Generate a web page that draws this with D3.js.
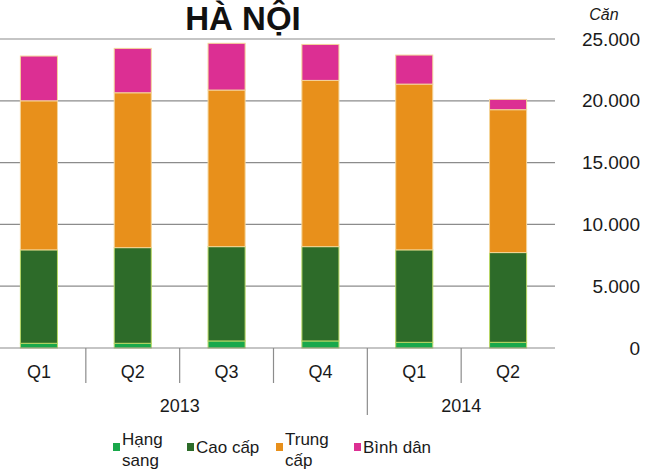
<!DOCTYPE html>
<html>
<head>
<meta charset="utf-8">
<script src="https://cdn.jsdelivr.net/npm/d3@7"></script>
<style>
  body { margin: 0; background: #fff; }
  svg { display: block; font-family: "Liberation Sans", Arial, sans-serif; }
</style>
</head>
<body>
<div id="chart"></div>
<script>
// Data
const quarters = ['Q1', 'Q2', 'Q3', 'Q4', 'Q1', 'Q2']
const years = ['2013', '2013', '2013', '2013', '2014', '2014']
const hangSang = [380, 380, 570, 570, 460, 460]
const caoCap = [7560, 7740, 7630, 7630, 7480, 7260]
const trungCap = [12060, 12530, 12670, 13450, 13410, 11560]
const binhDan = [3620, 3590, 3780, 2910, 2350, 830]
const seriesNames = ['Hạng sang', 'Cao cấp', 'Trung cấp', 'Bình dân']
const seriesColors = ['#19a84b', '#2d6b29', '#e8901b', '#dc2f93']
const yTicks = [0, 5000, 10000, 15000, 20000, 25000]

// Canvas
const width = 655,
      height = 473,
      plotLeft = -8,
      plotRight = 555,
      plotTop = 39,
      plotBottom = 348

const svg = d3.select('#chart')
  .append('svg')
  .attr('width', width)
  .attr('height', height)

const rows = quarters.map((q, i) => ({
  key: i,
  'Hạng sang': hangSang[i],
  'Cao cấp': caoCap[i],
  'Trung cấp': trungCap[i],
  'Bình dân': binhDan[i]
}))

const stack = d3.stack().keys(seriesNames)(rows)

const xScale = d3.scaleBand()
  .domain(d3.range(quarters.length))
  .range([plotLeft, plotRight])
  .paddingInner(0.605)
  .paddingOuter(0.3025)

const yScale = d3.scaleLinear()
  .domain([0, 25000])
  .range([plotBottom, plotTop])

const colorScale = d3.scaleOrdinal()
  .domain(seriesNames)
  .range(seriesColors)

const locale = d3.formatLocale({ decimal: ',', thousands: '.', grouping: [3], currency: ['', ''] })
const fmt = locale.format(',')

// Gridlines
svg.append('g')
  .selectAll('line')
  .data(yTicks.filter(d => d > 0))
  .join('line')
  .attr('x1', 0)
  .attr('x2', plotRight)
  .attr('y1', d => yScale(d))
  .attr('y2', d => yScale(d))
  .attr('stroke', '#8c8c8c')
  .attr('stroke-width', 1.2)

// Bars
svg.append('g')
  .selectAll('g')
  .data(stack)
  .join('g')
  .attr('fill', d => colorScale(d.key))
  .attr('stroke', d => (d.key === 'Hạng sang' || d.key === 'Cao cấp') ? '#b9d865' : '#f4d59a')
  .attr('stroke-width', 1)
  .selectAll('rect')
  .data(d => d)
  .join('rect')
  .attr('x', d => xScale(d.data.key))
  .attr('y', d => yScale(d[1]))
  .attr('width', xScale.bandwidth())
  .attr('height', d => yScale(d[0]) - yScale(d[1]))

// X axis line
svg.append('line')
  .attr('x1', 0)
  .attr('x2', plotRight)
  .attr('y1', plotBottom)
  .attr('y2', plotBottom)
  .attr('stroke', '#8c8c8c')
  .attr('stroke-width', 1.2)

// Category separators
const step = xScale.step()
d3.range(1, quarters.length).forEach(i => {
  const x = plotLeft + step * i
  const long = years[i] !== years[i - 1]
  svg.append('line')
    .attr('x1', x).attr('x2', x)
    .attr('y1', plotBottom)
    .attr('y2', long ? 415 : 383)
    .attr('stroke', '#8c8c8c')
    .attr('stroke-width', 1.2)
})

// Quarter labels
svg.append('g')
  .selectAll('text')
  .data(quarters)
  .join('text')
  .attr('x', (d, i) => xScale(i) + xScale.bandwidth() / 2)
  .attr('y', 372)
  .attr('dy', '0.35em')
  .attr('text-anchor', 'middle')
  .attr('font-size', 18)
  .attr('fill', '#1a1a1a')
  .text(d => d)

// Year labels
const yearGroups = d3.groups(years.map((y, i) => ({ y, i })), d => d.y)
svg.append('g')
  .selectAll('text')
  .data(yearGroups)
  .join('text')
  .attr('x', d => {
    const first = d[1][0].i, last = d[1][d[1].length - 1].i
    return (plotLeft + step * first + plotLeft + step * (last + 1)) / 2
  })
  .attr('y', 406)
  .attr('dy', '0.35em')
  .attr('text-anchor', 'middle')
  .attr('font-size', 18)
  .attr('fill', '#1a1a1a')
  .text(d => d[0])

// Y axis on the right
const yAxis = svg.append('g')
  .attr('transform', 'translate(640,0)')
  .call(d3.axisLeft(yScale)
    .tickValues(yTicks)
    .tickSize(0)
    .tickPadding(0)
    .tickFormat(fmt))
yAxis.select('.domain').remove()
yAxis.selectAll('text')
  .attr('font-size', 19)
  .attr('font-family', '"Liberation Sans", Arial, sans-serif')
  .attr('fill', '#1a1a1a')

// Unit label
svg.append('text')
  .attr('x', 604)
  .attr('y', 14)
  .attr('dy', '0.35em')
  .attr('text-anchor', 'middle')
  .attr('font-size', 16)
  .attr('font-style', 'italic')
  .attr('fill', '#1a1a1a')
  .text('Căn')

// Title
svg.append('text')
  .attr('x', 243)
  .attr('y', 30)
  .attr('text-anchor', 'middle')
  .attr('font-size', 33)
  .attr('font-weight', 'bold')
  .attr('fill', '#111')
  .text('HÀ NỘI')

// Legend
const legendItems = [
  { name: 'Hạng sang', lines: ['Hạng', 'sang'], x: 113 },
  { name: 'Cao cấp', lines: ['Cao cấp'], x: 187 },
  { name: 'Trung cấp', lines: ['Trung', 'cấp'], x: 276 },
  { name: 'Bình dân', lines: ['Bình dân'], x: 354 }
]
const legend = svg.append('g')
legendItems.forEach(item => {
  legend.append('rect')
    .attr('x', item.x)
    .attr('y', 443)
    .attr('width', 7)
    .attr('height', 8)
    .attr('fill', colorScale(item.name))
  const t = legend.append('text')
    .attr('font-size', 17)
    .attr('fill', '#1a1a1a')
  const startY = item.lines.length === 1 ? 447 : 439
  item.lines.forEach((l, j) => {
    t.append('tspan')
      .attr('x', item.x + 9)
      .attr('y', startY + j * 21)
      .attr('dy', '0.35em')
      .text(l)
  })
})
</script>
</body>
</html>
